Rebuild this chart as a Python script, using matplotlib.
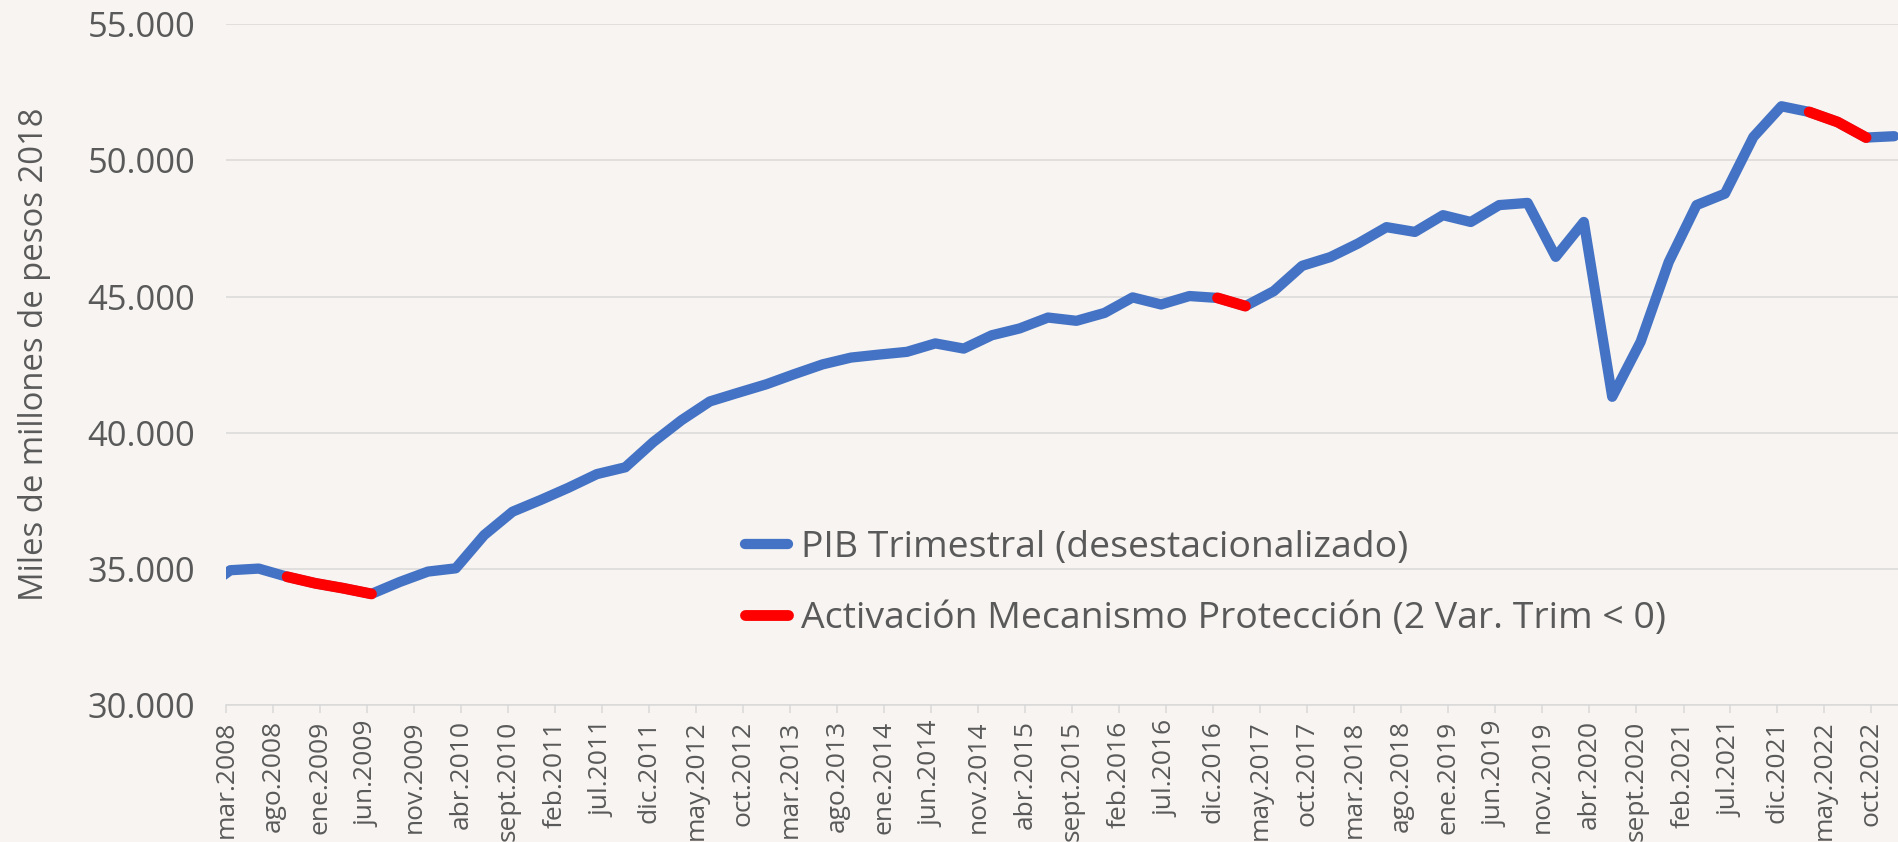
import matplotlib
matplotlib.use("Agg")
import matplotlib.pyplot as plt
import matplotlib.dates as mdates
from matplotlib.ticker import FuncFormatter, FixedLocator
from matplotlib.lines import Line2D
import numpy as np
import pandas as pd

# ---------------- data ----------------
# quarterly, dec.2007 .. dec.2022 (data dated mid-month)
quarters = pd.to_datetime([pd.Timestamp(d.year, d.month, 15)
                           for d in pd.date_range("2007-12-01", "2022-12-01", freq="3MS")])

pib = [34200,
       34950, 35010, 34710, 34470, 34290, 34080, 34520, 34900,
       35020, 36240, 37100, 37530, 37980, 38480, 38730, 39660,
       40460, 41150, 41470, 41780, 42150, 42510, 42760, 42870,
       42970, 43280, 43090, 43580, 43830, 44230, 44110, 44400,
       44970, 44710, 45020, 44950, 44650, 45200, 46130, 46450,
       46950, 47550, 47375, 47990, 47740, 48360, 48440, 46460,
       47740, 41320, 43340, 46270, 48360, 48780, 50860, 51990,
       51780, 51410, 50840, 50890]

# quarters where the protection mechanism is active (index into pib)
activo = [None] * len(pib)
for idx in [3, 4, 5, 6, 36, 37, 57, 58, 59]:
    activo[idx] = pib[idx]

serie_pib = "PIB Trimestral (desestacionalizado)"
serie_act = "Activación Mecanismo Protección (2 Var. Trim < 0)"
ylabel = "Miles de millones de pesos 2018"
meses = ["ene", "feb", "mar", "abr", "may", "jun", "jul", "ago", "sept", "oct", "nov", "dic"]
tick_dates = pd.date_range("2008-03-01", "2022-10-01", freq="5MS")
y_ticks = [30000, 35000, 40000, 45000, 50000, 55000]

# ---------------- style ----------------
BG = "#f7f4f1"
TXT = "#595959"
GRID = "#d9d9d9"
BLUE = "#4472c4"
RED = "#ff0000"
plt.rcParams["font.family"] = ["Open Sans", "DejaVu Sans"]

W, H = 1898, 842
fig = plt.figure(figsize=(W / 100, H / 100), dpi=100, facecolor=BG)
ax = fig.add_axes([226 / W, 1 - 705 / H, 1 - 226 / W, (705 - 24.3) / H])
ax.set_facecolor(BG)

x = mdates.date2num(quarters.to_pydatetime())
act = np.array([np.nan if v is None else v for v in activo], dtype=float)

ax.plot(x, pib, color=BLUE, lw=7.4, solid_joinstyle="round", solid_capstyle="round", zorder=3)
ax.plot(x, act, color=RED, lw=7.8, solid_joinstyle="round", solid_capstyle="round", zorder=4)

xmin = mdates.date2num(pd.Timestamp("2008-03-01"))
px_per_day = (1871 - 226) / (mdates.date2num(pd.Timestamp("2022-10-01")) - xmin)
xmax = xmin + (W - 226) / px_per_day
ax.set_xlim(xmin, xmax)
ax.set_ylim(30000, 55000)

ax.xaxis.set_major_locator(FixedLocator(mdates.date2num(tick_dates.to_pydatetime())))
ax.set_xticklabels([f"{meses[d.month - 1]}.{d.year}" for d in tick_dates],
                   rotation=90, fontsize=19, color=TXT)
ax.set_yticks(y_ticks)
ax.yaxis.set_major_formatter(FuncFormatter(lambda v, p: f"{v:,.0f}".replace(",", ".")))
ax.tick_params(axis="y", length=0, pad=22, labelsize=24.8, labelcolor=TXT)
ax.tick_params(axis="x", length=6, width=1.1, color=GRID, pad=5)

ax.grid(axis="y", color=GRID, lw=1.1, zorder=0)
for s in ["top", "right", "left"]:
    ax.spines[s].set_visible(False)
ax.spines["bottom"].set_color(GRID)
ax.spines["bottom"].set_linewidth(1.1)
ax.spines["bottom"].set_zorder(1)

fig.text(35 / W, 1 - 354 / H, ylabel, rotation=90, ha="center", va="center",
         fontsize=23.6, color=TXT)

handles = [Line2D([], [], color=BLUE, lw=7.4, solid_capstyle="round"),
           Line2D([], [], color=RED, lw=7.8, solid_capstyle="round")]
leg = fig.legend(handles, [serie_pib, serie_act], loc="upper left",
                 bbox_to_anchor=(745 / W, 1 - 530 / H), frameon=False,
                 fontsize=26.9, labelcolor=TXT, handlelength=1.15, handletextpad=0.36,
                 labelspacing=0.94, borderaxespad=0, borderpad=0)

fig.savefig("out.png", dpi=100, facecolor=BG)
